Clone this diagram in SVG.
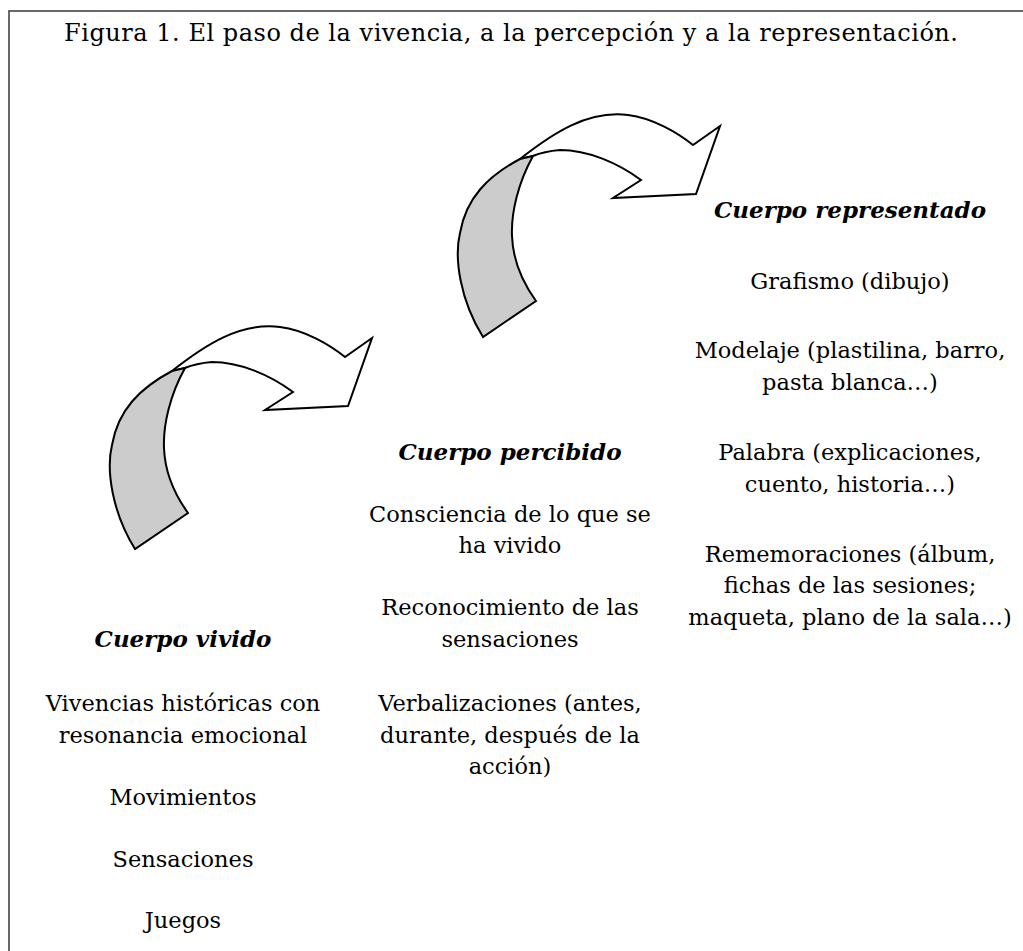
<svg xmlns="http://www.w3.org/2000/svg" xmlns:xlink="http://www.w3.org/1999/xlink" width="1023" height="951" viewBox="0 0 1023 951">
<style>
text{font-family:"DejaVu Serif","Liberation Serif",serif;font-size:22.5px;fill:#000;text-anchor:middle}
.h{font-weight:bold;font-style:italic;font-size:23px}
.ln{stroke:#000;stroke-width:2;stroke-linejoin:miter}
</style>
<defs>
<g id="curvedArrow">
<path class="ln" fill="#ffffff" d="M172,371 C205,345 240,322 280,327 C305,330 330,345 345,357 L372,338 L348,406 L265,410 L293,392 C270,375 240,362 212,362 C200,363 192,365 185,368 Z"/>
<path class="ln" fill="#cccccc" d="M135,549 C112,512 106,470 112,445 C118,410 140,388 172,371 L185,368 C170,395 163,425 164,448 C165,475 175,495 188,513 Z"/>
</g>
</defs>
<rect x="9" y="11" width="1040" height="1000" fill="#fff" stroke="#444" stroke-width="1.6"/>
<text id="title" x="511" y="41" style="font-size:24px" textLength="894" lengthAdjust="spacing">Figura 1. El paso de la vivencia, a la percepción y a la representación.</text>
<g id="connectors">
<use xlink:href="#curvedArrow"/>
<use xlink:href="#curvedArrow" transform="translate(348,-212)"/>
</g>
<g id="vivido">
<text class="h" x="183" y="647">Cuerpo vivido</text>
<text x="183" y="711">Vivencias históricas con</text>
<text x="183" y="743">resonancia emocional</text>
<text x="183" y="805">Movimientos</text>
<text x="183" y="867">Sensaciones</text>
<text x="183" y="928">Juegos</text>
</g>
<g id="percibido">
<text class="h" x="510" y="460">Cuerpo percibido</text>
<text x="510" y="522">Consciencia de lo que se</text>
<text x="510" y="553">ha vivido</text>
<text x="510" y="615">Reconocimiento de las</text>
<text x="510" y="647">sensaciones</text>
<text x="510" y="711">Verbalizaciones (antes,</text>
<text x="510" y="743">durante, después de la</text>
<text x="510" y="774">acción)</text>
</g>
<g id="representado">
<text class="h" x="850" y="218">Cuerpo representado</text>
<text x="850" y="289">Grafismo (dibujo)</text>
<text x="850" y="358">Modelaje (plastilina, barro,</text>
<text x="850" y="390">pasta blanca…)</text>
<text x="850" y="460">Palabra (explicaciones,</text>
<text x="850" y="492">cuento, historia…)</text>
<text x="850" y="562">Rememoraciones (álbum,</text>
<text x="850" y="593">fichas de las sesiones;</text>
<text x="850" y="625">maqueta, plano de la sala…)</text>
</g>
</svg>
